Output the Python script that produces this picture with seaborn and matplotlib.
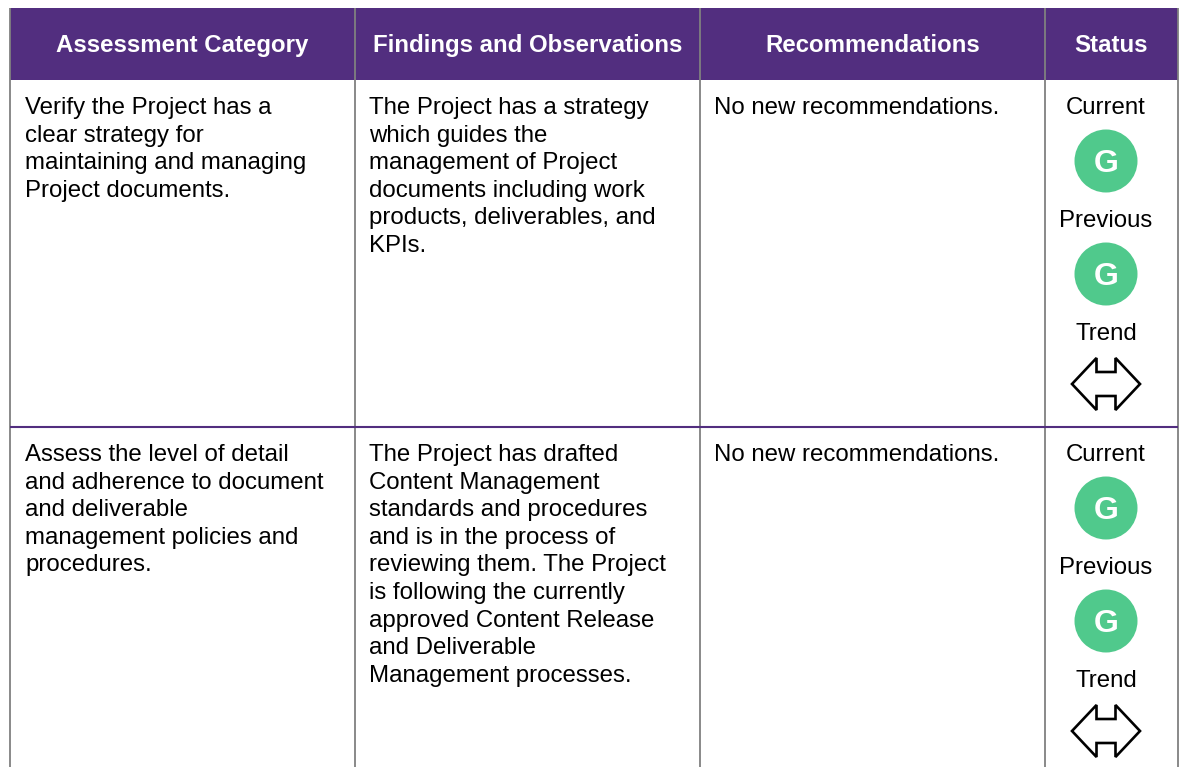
import matplotlib
matplotlib.use("Agg")
import matplotlib.pyplot as plt
from matplotlib.patches import Circle, Polygon, Rectangle
import seaborn as sns

headers = ["Assessment Category", "Findings and Observations", "Recommendations", "Status"]
row_cells = [
    [["Verify the Project has a", "clear strategy for", "maintaining and managing", "Project documents."],
     ["The Project has a strategy", "which guides the", "management of Project", "documents including work",
      "products, deliverables, and", "KPIs."],
     ["No new recommendations."]],
    [["Assess the level of detail", "and adherence to document", "and deliverable",
      "management policies and", "procedures."],
     ["The Project has drafted", "Content Management", "standards and procedures", "and is in the process of",
      "reviewing them. The Project", "is following the currently", "approved Content Release",
      "and Deliverable", "Management processes."],
     ["No new recommendations."]],
]
status_labels = ["Current", "Previous", "Trend"]
ratings = [["G", "G"], ["G", "G"]]

PURPLE = "#522E7F"
GREEN = "#50C98C"
GRAY = "#808080"
col_x = [10, 354.5, 700, 1045, 1178]
header_top, header_bottom = 8, 80
row_tops = [80, 427]
PITCH = 27.6
FS = 17.25

sns.set_theme(style="white")
plt.rcParams["font.family"] = ["Liberation Sans", "DejaVu Sans"]

fig = plt.figure(figsize=(11.82, 7.67), dpi=100)
ax = fig.add_axes([0, 0, 1, 1])
ax.set_xlim(0, 1182)
ax.set_ylim(767, 0)
ax.axis("off")

ax.add_patch(Rectangle((col_x[0], header_top), col_x[-1] - col_x[0], header_bottom - header_top,
                       facecolor=PURPLE, edgecolor="none", zorder=1))
for x in col_x:
    ax.plot([x, x], [header_top, 767], color=GRAY, lw=1.3, zorder=2, solid_capstyle="butt")
ax.plot([col_x[0], col_x[-1]], [row_tops[1]] * 2, color=PURPLE, lw=1.5, zorder=3, solid_capstyle="butt")

for i, h in enumerate(headers):
    ax.text((col_x[i] + col_x[i + 1]) / 2, 52, h, color="white", fontsize=FS, fontweight="bold",
            ha="center", va="baseline", zorder=4)

arrow_shape = [(-34, 0), (-9.5, -26), (-9.5, -12), (9.5, -12), (9.5, -26), (34, 0),
               (9.5, 26), (9.5, 12), (-9.5, 12), (-9.5, 26)]
status_cx = 1106
text_left = [25, 369, 714]

for r, (top, cells) in enumerate(zip(row_tops, row_cells)):
    base = top + 34
    for c, lines in enumerate(cells):
        for k, line in enumerate(lines):
            ax.text(text_left[c], base + k * PITCH, line, color="black", fontsize=FS,
                    ha="left", va="baseline", zorder=4)
    for k, lab in enumerate(status_labels):
        ax.text(status_cx, base + k * 113, lab, color="black", fontsize=FS,
                ha="center", va="baseline", zorder=4)
    for k, g in enumerate(ratings[r]):
        cy = top + 81 + k * 113
        ax.add_patch(Circle((status_cx, cy), 31.5, facecolor=GREEN, edgecolor="none", zorder=3))
        ax.text(status_cx, cy + 11, g, color="white", fontsize=23, fontweight="bold",
                family="Liberation Sans", ha="center", va="baseline", zorder=4)
    ay = top + 304
    ax.add_patch(Polygon([(status_cx + dx, ay + dy) for dx, dy in arrow_shape], closed=True,
                         facecolor="white", edgecolor="black", lw=1.9, zorder=3, joinstyle="miter"))

fig.savefig("out.png", dpi=100, facecolor="white")
